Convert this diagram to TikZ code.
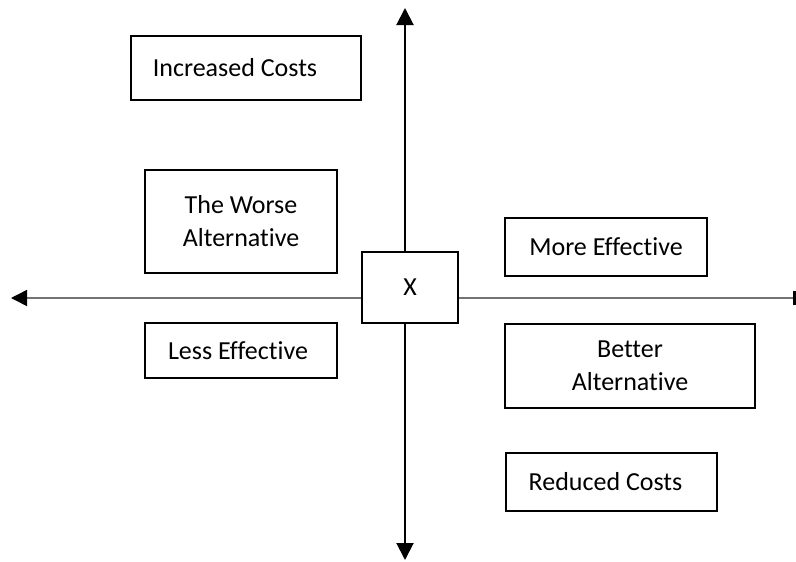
\documentclass[tikz,border=0pt]{standalone}
\usepackage{fontspec}
\setmainfont{Carlito}[Ligatures=NoCommon]
\usetikzlibrary{arrows.meta}

\begin{document}
\begin{tikzpicture}[x=1pt,y=-1pt,
    box/.style={draw, line width=2pt, fill=white, align=center, inner sep=0pt,
      font=\fontsize{26}{33}\selectfont}]
  \useasboundingbox (0,0) rectangle (796,562);
  % axes
  \coordinate (top) at (405,8);
  \coordinate (bottom) at (405,560);
  \coordinate (left) at (11,298);
  \coordinate (right) at (796,298);
  \draw[black!55, line width=1.5pt,
    {Triangle[width=16pt,length=16pt,color=black]}-{Rectangle[length=3pt,width=14pt,color=black]}]
    (left)--(right);
  \draw[line width=2pt,
    {Triangle[width=17pt,length=17pt]}-{Triangle[width=17pt,length=17pt]}]
    (top)--(bottom);
  % boxes
  \node[box, minimum width=96pt, minimum height=71pt] (X) at (410,287.5) {X};
  \node[box, minimum width=230pt, minimum height=64pt] (incr) at (246,68) {\hspace*{-22pt}Increased Costs};
  \node[box, minimum width=192pt, minimum height=103pt] (worse) at (241,221.5) {The Worse\\Alternative};
  \node[box, minimum width=192pt, minimum height=55pt] (less) at (241,350.5) {\hspace*{-6pt}Less Effective};
  \node[box, minimum width=202pt, minimum height=58pt] (more) at (606,247) {More Effective};
  \node[box, minimum width=250pt, minimum height=84pt] (better) at (630,366) {Better\\Alternative};
  \node[box, minimum width=211pt, minimum height=58pt] (reduced) at (611.5,482) {\hspace*{-12pt}Reduced Costs};
\end{tikzpicture}
\end{document}
